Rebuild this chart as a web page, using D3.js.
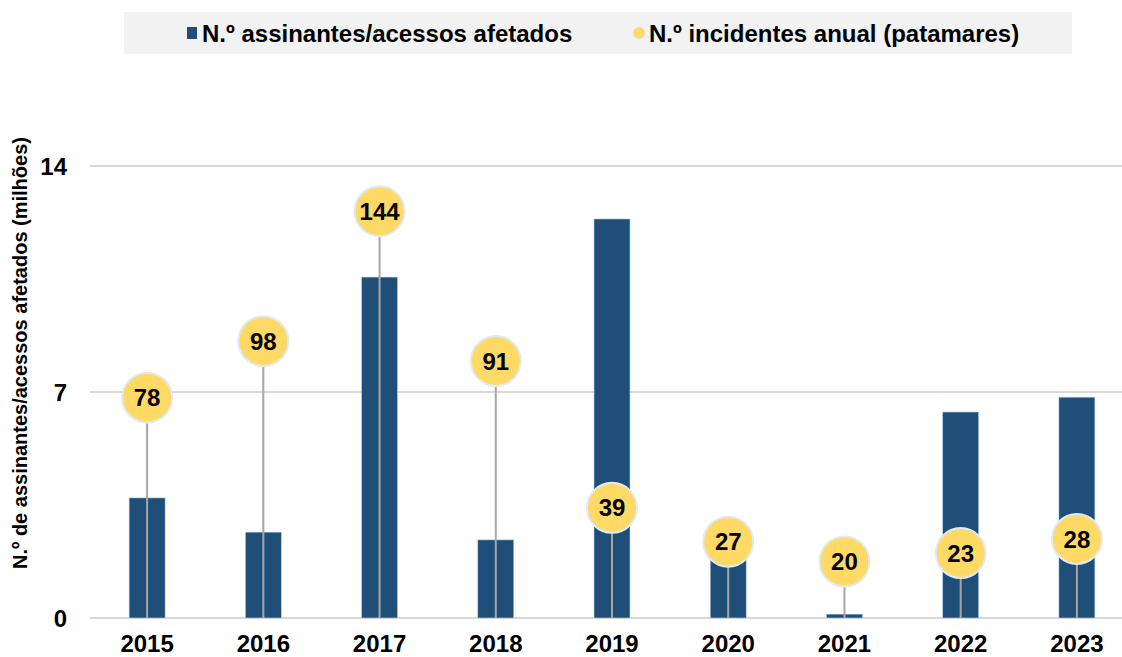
<!DOCTYPE html>
<html>
<head>
<meta charset="utf-8">
<script src="https://cdn.jsdelivr.net/npm/d3@7"></script>
<style>
  html, body { margin: 0; padding: 0; background: #fff; }
  svg { display: block; font-family: "Liberation Sans", Arial, sans-serif; }
</style>
</head>
<body>
<svg id="chart" width="1122" height="657"></svg>
<script>
// Years on the category axis
const years = ["2015", "2016", "2017", "2018", "2019", "2020", "2021", "2022", "2023"];
// Subscribers/accesses affected (millions)
const affected = [3.72, 2.66, 10.56, 2.42, 12.36, 1.9, 0.12, 6.38, 6.84];
// Annual incidents (shown as bubbles on a secondary 0–160 scale)
const incidents = [78, 98, 144, 91, 39, 27, 20, 23, 28];
// Left axis ticks
const yTicks = [0, 7, 14];

const svg = d3.select("#chart");

const x = d3.scaleBand()
  .domain(years)
  .range([89, 1135])
  .paddingInner(0.69)
  .paddingOuter(0.345);

const y = d3.scaleLinear().domain([0, 14]).range([618, 166]);
const y2 = d3.scaleLinear().domain([0, 160]).range([618, 166]);

// Gridlines
svg.append("g")
  .selectAll("line")
  .data(yTicks)
  .join("line")
  .attr("x1", 90).attr("x2", 1122)
  .attr("y1", d => y(d)).attr("y2", d => y(d))
  .attr("stroke", "#D9D9D9").attr("stroke-width", 2);

// Left axis labels
const yAxis = d3.axisLeft(y).tickValues(yTicks).tickSize(0).tickPadding(0);
svg.append("g")
  .attr("transform", "translate(67,0)")
  .call(yAxis)
  .call(g => g.select(".domain").remove())
  .call(g => g.selectAll("text")
    .attr("font-family", "Liberation Sans, Arial, sans-serif")
    .attr("font-size", 24).attr("font-weight", "bold").attr("fill", "#000")
    .attr("dy", "0.36em"));

// Axis title
svg.append("text")
  .attr("transform", "translate(27,353) rotate(-90)")
  .attr("text-anchor", "middle")
  .attr("font-size", 20).attr("font-weight", "bold").attr("fill", "#000")
  .text("N.º de assinantes/acessos afetados (milhões)");

// Bars
svg.append("g")
  .selectAll("rect")
  .data(years)
  .join("rect")
  .attr("x", d => x(d))
  .attr("width", x.bandwidth())
  .attr("y", (d, i) => y(affected[i]))
  .attr("height", (d, i) => y(0) - y(affected[i]))
  .attr("fill", "#1F4E79")
  .attr("stroke", "#BDD7EE").attr("stroke-width", 0.6);

// Bottom axis labels
const xAxis = d3.axisBottom(x).tickSize(0).tickPadding(0);
svg.append("g")
  .attr("transform", "translate(0,643)")
  .call(xAxis)
  .call(g => g.select(".domain").remove())
  .call(g => g.selectAll("text")
    .attr("font-family", "Liberation Sans, Arial, sans-serif")
    .attr("font-size", 24).attr("font-weight", "bold").attr("fill", "#000")
    .attr("dy", "0.36em"));

// Drop lines from bubbles to the baseline
svg.append("g")
  .selectAll("line")
  .data(years)
  .join("line")
  .attr("x1", d => x(d) + x.bandwidth() / 2)
  .attr("x2", d => x(d) + x.bandwidth() / 2)
  .attr("y1", (d, i) => y2(incidents[i]))
  .attr("y2", y(0))
  .attr("stroke", "#A6A6A6").attr("stroke-width", 2);

// Incident bubbles
const bubbles = svg.append("g")
  .selectAll("g")
  .data(years)
  .join("g")
  .attr("transform", (d, i) => `translate(${x(d) + x.bandwidth() / 2},${y2(incidents[i])})`);

bubbles.append("circle")
  .attr("r", 25)
  .attr("fill", "#FFD966")
  .attr("stroke", "#DEEBF7").attr("stroke-width", 2);

bubbles.append("text")
  .attr("text-anchor", "middle")
  .attr("dy", "0.36em")
  .attr("font-size", 24).attr("font-weight", "bold").attr("fill", "#000")
  .text((d, i) => incidents[i]);

// Legend
const legend = svg.append("g");
legend.append("rect")
  .attr("x", 124).attr("y", 12).attr("width", 948).attr("height", 42)
  .attr("fill", "#F2F2F2");
legend.append("rect")
  .attr("x", 187).attr("y", 27).attr("width", 10).attr("height", 12)
  .attr("fill", "#1F4E79");
legend.append("text")
  .attr("x", 202).attr("y", 33).attr("dy", "0.36em")
  .attr("font-size", 24).attr("font-weight", "bold").attr("fill", "#000")
  .text("N.º assinantes/acessos afetados");
legend.append("circle")
  .attr("cx", 639).attr("cy", 33).attr("r", 6)
  .attr("fill", "#FFD966").attr("stroke", "#DEEBF7").attr("stroke-width", 1);
legend.append("text")
  .attr("x", 649).attr("y", 33).attr("dy", "0.36em")
  .attr("font-size", 24).attr("font-weight", "bold").attr("fill", "#000")
  .text("N.º incidentes anual (patamares)");
</script>
</body>
</html>
